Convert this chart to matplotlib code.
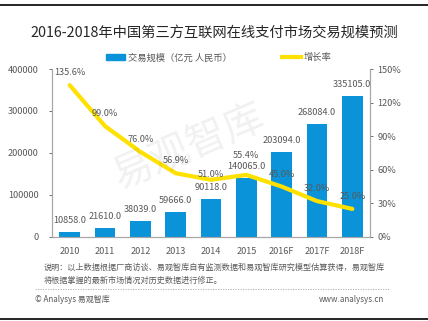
import matplotlib
matplotlib.use("Agg")
import matplotlib.pyplot as plt
from matplotlib.lines import Line2D
from matplotlib.patches import Patch

plt.rcParams['font.family'] = ['Noto Sans CJK SC', 'DejaVu Sans']

years = ['2010', '2011', '2012', '2013', '2014', '2015', '2016F', '2017F', '2018F']
volume = [10858.0, 21610.0, 38039.0, 59666.0, 90118.0, 140065.0, 203094.0, 268084.0, 335105.0]
growth = [135.6, 99.0, 76.0, 56.9, 51.0, 55.4, 45.0, 32.0, 25.0]
# vertical offset (points) of each growth label above its point
growth_label_dy = [9, 9, 9, 9, 4, 14, 9, 9, 9]

blue = '#0a93d8'
yellow = '#ffe100'
grey = '#595959'

fig = plt.figure(figsize=(4.28, 3.21), dpi=100)
ax = fig.add_axes([0.1215, 0.262, 0.743, 0.523])
ax2 = ax.twinx()

x = range(len(years))
ax.bar(x, volume, width=0.58, color=blue, zorder=2)
for i, v in enumerate(volume):
    ax.annotate('%.1f' % v, (i, v), xytext=(0, 5), textcoords='offset points',
                ha='center', va='bottom', fontsize=6.6, color=grey)

ax2.plot(x, growth, color=yellow, lw=3, solid_capstyle='round',
         solid_joinstyle='round', zorder=3)
for i, g in enumerate(growth):
    ax2.annotate('%.1f%%' % g, (i, g), xytext=(0, growth_label_dy[i]),
                 textcoords='offset points', ha='center', va='center',
                 fontsize=6.6, color=grey)

ax.set_xlim(-0.5, len(years) - 0.5)
ax.set_ylim(0, 400000)
ax.set_yticks(range(0, 400001, 100000))
ax2.set_ylim(0, 150)
ax2.set_yticks(range(0, 151, 30))
ax2.set_yticklabels(['%d%%' % t for t in range(0, 151, 30)])
ax.set_xticks(list(x))
ax.set_xticklabels(years)

for a in (ax, ax2):
    a.tick_params(labelsize=6.6, colors=grey, length=2.5, width=0.6, pad=3)
    a.spines['top'].set_visible(False)
    for s in ('left', 'right', 'bottom'):
        a.spines[s].set_color('#a6a6a6')
        a.spines[s].set_linewidth(0.8)
ax.tick_params(axis='x', length=0, pad=7)
ax.tick_params(axis='y', pad=7)
ax.set_zorder(ax2.get_zorder() - 1)
ax2.patch.set_visible(False)

# watermark
fig.text(0.44, 0.545, '易观智库', fontsize=29, color='#000000', alpha=0.06,
         rotation=23, ha='center', va='center', rotation_mode='anchor')

fig.text(0.5, 0.898, '2016-2018年中国第三方互联网在线支付市场交易规模预测',
         fontsize=10.3, color='#262626', ha='center', va='center')

handles = [Patch(color=blue), Line2D([], [], color=yellow, lw=3)]
fig.legend(handles, ['交易规模（亿元 人民币）', '增长率'], loc='center',
           bbox_to_anchor=(0.511, 0.82), ncol=2, frameon=False, fontsize=6.7,
           handlelength=2.0, handleheight=0.5, handletextpad=0.3, columnspacing=5.4,
           labelcolor=grey)

fig.text(0.103, 0.168, '说明：以上数据根据厂商访谈、易观智库自有监测数据和易观智库研究模型估算获得，易观智库',
         fontsize=5.85, color=grey, ha='left', va='center')
fig.text(0.103, 0.125, '将根据掌握的最新市场情况对历史数据进行修正。',
         fontsize=5.85, color=grey, ha='left', va='center')
fig.add_artist(Line2D([0.082, 0.908], [0.099, 0.099], color='#a6a6a6', lw=0.6, ls=(0, (1.5, 1.5))))
fig.text(0.082, 0.068, '© Analysys 易观智库', fontsize=5.8, color=grey, ha='left', va='center')
fig.text(0.897, 0.068, 'www.analysys.cn', fontsize=5.8, color=grey, ha='right', va='center')

fig.add_artist(Line2D([0, 1], [0.985, 0.985], color='black', lw=1.2))
fig.add_artist(Line2D([0, 1], [0.006, 0.006], color='black', lw=1.2))

fig.savefig('out.png', dpi=100)
